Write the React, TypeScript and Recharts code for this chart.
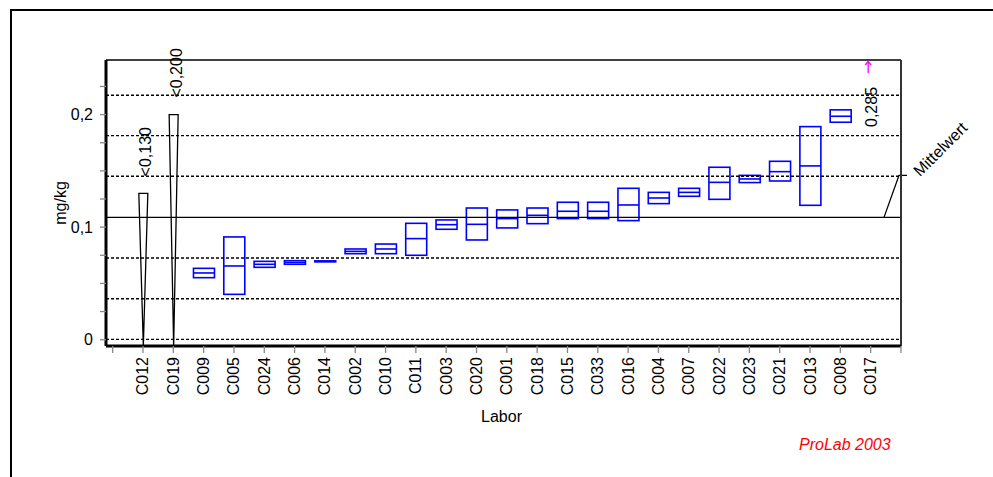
import { ComposedChart, Bar, XAxis, YAxis, ReferenceLine, ReferenceDot, Label } from "recharts";

const FONT = "'Liberation Sans', Arial, sans-serif";

const labs = [
  "C012", "C019", "C009", "C005", "C024", "C006", "C014", "C002", "C010", "C011", "C003", "C020", "C001",
  "C018", "C015", "C033", "C016", "C004", "C007", "C022", "C023", "C021", "C013", "C008", "C017",
];

// box per lab in mg/kg (null = no box)
const lows = [
  null, null, 0.0551, 0.0403, 0.0643, 0.067, 0.0692, 0.0764, 0.0764, 0.075, 0.0981, 0.0886, 0.0993,
  0.1031, 0.1076, 0.1076, 0.1058, 0.1209, 0.1274, 0.1247, 0.1396, 0.141, 0.1194, 0.1932, null,
];
const medians = [
  null, null, 0.0593, 0.0655, 0.067, 0.0686, 0.0696, 0.0785, 0.0806, 0.0898, 0.1022, 0.1025, 0.1076,
  0.1105, 0.1141, 0.1141, 0.1197, 0.1259, 0.1309, 0.1398, 0.1428, 0.1493, 0.1544, 0.1985, null,
];
const highs = [
  null, null, 0.0634, 0.0913, 0.0696, 0.0702, 0.07, 0.0806, 0.085, 0.1034, 0.1064, 0.117, 0.1153,
  0.117, 0.1221, 0.1221, 0.1345, 0.1309, 0.1345, 0.1532, 0.146, 0.1585, 0.1893, 0.2042, null,
];

// "<" results
const lessThan = [0.13, 0.2, null, null, null, null, null, null, null, null, null, null, null,
  null, null, null, null, null, null, null, null, null, null, null, null];

// result above the axis range
const offScale = [null, null, null, null, null, null, null, null, null, null, null, null, null,
  null, null, null, null, null, null, null, null, null, null, null, 0.285];

const MEAN = 0.1087;
const limitLines = [0.2172, 0.1813, 0.1452, 0.0726, 0.0364, 0.0003];

const yTicks = [0, 0.025, 0.05, 0.075, 0.1, 0.125, 0.15, 0.175, 0.2, 0.225];
const xTicks = Array.from({ length: 27 }, (_, i) => i);

const Y_MIN = -0.0056;
const Y_MAX = 0.2485;
const X_MIN = -0.22;
const X_MAX = 26;

const data = labs.map((lab, i) => ({
  pos: i + 1,
  lab,
  median: medians[i],
  lt: lessThan[i],
  range:
    lows[i] != null
      ? [lows[i], highs[i]]
      : lessThan[i] != null
      ? [Y_MIN, lessThan[i]]
      : null,
}));

const offIdx = offScale.findIndex((v) => v != null);

const fmtNum = (v: number) => v.toFixed(3).replace(".", ",");

function fmtY(v: number) {
  const r = Math.round(v * 10);
  if (Math.abs(v * 10 - r) > 1e-6) return "";
  return (r / 10).toString().replace(".", ",");
}

function BoxShape(props: any) {
  const { x, y, width, height, payload } = props;
  if (!payload || payload.range == null || !isFinite(y)) return <g />;
  const cx = x + width / 2;
  if (payload.lt != null) {
    return (
      <polygon
        points={`${cx - 4.5},${y} ${cx + 4.5},${y} ${cx},${y + height}`}
        fill="#fff"
        stroke="#000"
        strokeWidth={1.3}
      />
    );
  }
  const [lo, hi] = payload.range;
  const my = y + (height * (hi - payload.median)) / (hi - lo);
  return (
    <g>
      <rect x={x} y={y} width={width} height={height} fill="none" stroke="#0000ff" strokeWidth={1.6} />
      <line x1={x} x2={x + width} y1={my} y2={my} stroke="#0000ff" strokeWidth={1.6} />
    </g>
  );
}

function RotLabel({ x, y, text }: { x: number; y: number; text: string }) {
  return (
    <text
      x={x}
      y={y}
      transform={`rotate(-90 ${x} ${y})`}
      textAnchor="start"
      dominantBaseline="central"
      fontSize={16}
      fontFamily={FONT}
      fill="#000"
    >
      {text}
    </text>
  );
}

function LessThanLabel(props: any) {
  const { cx, cy, text } = props;
  return <RotLabel x={cx + 3} y={cy - 17} text={text} />;
}

function LabTick(props: any) {
  const { x, y, payload } = props;
  const label = labs[payload.value - 1];
  if (!label) return <g />;
  return (
    <text
      x={x}
      y={y}
      transform={`rotate(-90 ${x} ${y})`}
      textAnchor="end"
      dominantBaseline="central"
      fontSize={16}
      fontFamily={FONT}
      fill="#000"
    >
      {label}
    </text>
  );
}

function MeanLabel(props: any) {
  const vb = props.viewBox;
  if (!vb) return null;
  const right = vb.x + vb.width;
  const y = vb.y;
  const tx = right + 19;
  const ty = y - 40;
  return (
    <g>
      <polyline
        points={`${right - 17},${y} ${right - 2},${y - 42} ${right + 6},${y - 42}`}
        fill="none"
        stroke="#000"
        strokeWidth={1.3}
      />
      <text x={tx} y={ty} transform={`rotate(-45 ${tx} ${ty})`} fontSize={16} fontFamily={FONT} fill="#000">
        Mittelwert
      </text>
    </g>
  );
}

function OffScaleMark(props: any) {
  const { cx, cy } = props;
  const ax = cx - 2.5;
  return (
    <g>
      <line x1={ax} x2={ax} y1={cy + 1.5} y2={cy + 13} stroke="#ff00ff" strokeWidth={1.3} />
      <polyline
        points={`${ax - 3},${cy + 5} ${ax},${cy + 1.5} ${ax + 3},${cy + 5}`}
        fill="none"
        stroke="#ff00ff"
        strokeWidth={1.3}
      />
      <RotLabel x={cx + 0.5} y={cy + 67} text={fmtNum(offScale[offIdx]!)} />
    </g>
  );
}

function YTitle(props: any) {
  const vb = props.viewBox;
  if (!vb) return null;
  const x = vb.x + vb.width - 45.3;
  const y = vb.y + vb.height / 2;
  return (
    <text
      x={x}
      y={y}
      transform={`rotate(-90 ${x} ${y})`}
      textAnchor="middle"
      dominantBaseline="central"
      fontSize={16}
      fontFamily={FONT}
      fill="#000"
    >
      mg/kg
    </text>
  );
}

function XTitle(props: any) {
  const vb = props.viewBox;
  if (!vb) return null;
  return (
    <text
      x={vb.x + vb.width / 2 - 2}
      y={vb.y + 70.7}
      textAnchor="middle"
      dominantBaseline="central"
      fontSize={16}
      fontFamily={FONT}
      fill="#000"
    >
      Labor
    </text>
  );
}

export default function App() {
  return (
    <div
      style={{
        position: "absolute",
        left: 0,
        top: 0,
        width: 993,
        height: 477,
        background: "#fff",
        overflow: "hidden",
        fontFamily: FONT,
      }}
    >
      {/* outer frame, open to the right and bottom */}
      <div
        style={{
          position: "absolute",
          left: 10,
          top: 9,
          width: 1100,
          height: 600,
          borderTop: "2px solid #000",
          borderLeft: "2px solid #000",
        }}
      />
      <div style={{ position: "absolute", left: 0, top: 0 }}>
        <ComposedChart
          width={993}
          height={477}
          data={data}
          margin={{ top: 60, right: 92, left: 46, bottom: 51 }}
        >
          <XAxis
            type="number"
            dataKey="pos"
            domain={[X_MIN, X_MAX]}
            ticks={xTicks}
            interval={0}
            height={80}
            tick={<LabTick />}
            tickSize={7}
            tickMargin={4}
            tickLine={{ stroke: "#888", strokeWidth: 1.3 }}
            axisLine={{ stroke: "#000", strokeWidth: 3 }}
          >
            <Label content={<XTitle />} />
          </XAxis>
          <YAxis
            type="number"
            domain={[Y_MIN, Y_MAX]}
            ticks={yTicks}
            interval={0}
            width={60}
            tickFormatter={fmtY}
            tick={{ fill: "#000", fontSize: 16, fontFamily: FONT }}
            tickSize={6}
            tickMargin={7}
            tickLine={{ stroke: "#888", strokeWidth: 1.3 }}
            axisLine={{ stroke: "#000", strokeWidth: 3 }}
          >
            <Label content={<YTitle />} />
          </YAxis>

          {limitLines.map((v) => (
            <ReferenceLine key={v} y={v} stroke="#000" strokeWidth={1.3} strokeDasharray="3 2" />
          ))}
          <ReferenceLine y={MEAN} stroke="#000" strokeWidth={1.3} label={<MeanLabel />} />
          <ReferenceLine y={Y_MAX} stroke="#000" strokeWidth={1.5} />
          <ReferenceLine x={X_MAX} stroke="#333" strokeWidth={2} />

          <Bar dataKey="range" barSize={21} shape={<BoxShape />} isAnimationActive={false} />

          {lessThan.map((v, i) =>
            v == null ? null : (
              <ReferenceDot
                key={labs[i]}
                x={i + 1}
                y={v}
                shape={<LessThanLabel text={"<" + fmtNum(v)} />}
              />
            )
          )}
          <ReferenceDot x={offIdx + 1} y={Y_MAX} shape={<OffScaleMark />} />
        </ComposedChart>
      </div>
      <span
        style={{
          position: "absolute",
          left: 799,
          top: 436,
          fontSize: 16,
          lineHeight: "18px",
          fontStyle: "italic",
          color: "#ff0000",
        }}
      >
        ProLab 2003
      </span>
    </div>
  );
}
